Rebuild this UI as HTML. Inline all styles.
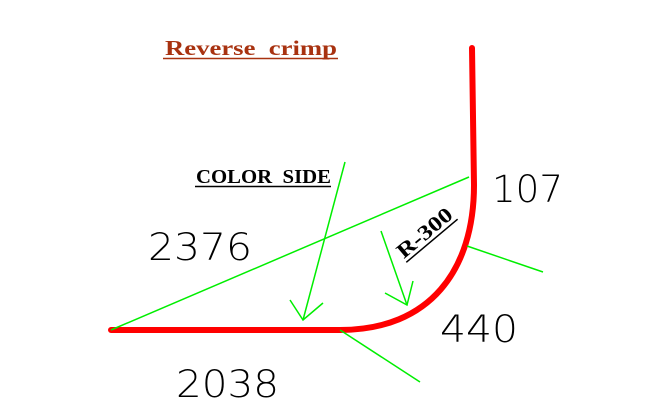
<!DOCTYPE html>
<html><head><meta charset="utf-8"><style>
html,body{margin:0;padding:0;background:#fff;}
svg{display:block;}
.num{font-family:"DejaVu Sans","Liberation Sans",sans-serif;font-size:37px;font-weight:200;fill:#000;}
.lbl{font-family:"Liberation Serif",serif;font-weight:bold;white-space:pre;}
</style></head><body>
<svg width="649" height="417" viewBox="0 0 649 417">
<rect width="649" height="417" fill="#fff"/>
<g>
<text class="lbl" x="165" y="55" font-size="21" fill="#a83210" textLength="172" lengthAdjust="spacingAndGlyphs" xml:space="preserve">Reverse  crimp</text>
<line x1="163" y1="58.5" x2="338" y2="58.5" stroke="#a83210" stroke-width="1.5"/>
</g>
<g>
<text class="lbl" x="196" y="183" font-size="20" fill="#000" textLength="135" lengthAdjust="spacingAndGlyphs" xml:space="preserve">COLOR  SIDE</text>
<line x1="195" y1="186.5" x2="331" y2="186.5" stroke="#000" stroke-width="1.5"/>
</g>
<path d="M111,330 L340,330 C430,330 474,270 474,185 L472,48" fill="none" stroke="#ff0000" stroke-width="6" stroke-linecap="round" stroke-linejoin="round"/>
<g stroke="#00ee00" stroke-width="1.5" fill="none">
<line x1="111" y1="330" x2="469" y2="177"/>
<line x1="345" y1="162" x2="303" y2="320"/>
<polyline points="290,300 303,320 323,303"/>
<line x1="381" y1="231" x2="407" y2="305"/>
<polyline points="385,293 407,305 413,281"/>
<line x1="467" y1="246" x2="543" y2="272"/>
<line x1="340" y1="330" x2="420" y2="382"/>
</g>
<g transform="translate(429,238) rotate(-40)">
<text class="lbl" x="0" y="0" font-size="21" fill="#000" text-anchor="middle" textLength="66" lengthAdjust="spacingAndGlyphs">R-300</text>
<line x1="-33" y1="4" x2="34" y2="4" stroke="#000" stroke-width="1.5"/>
</g>
<text class="num" x="148" y="260" textLength="104" lengthAdjust="spacingAndGlyphs">2376</text>
<text class="num" x="492" y="202" textLength="71" lengthAdjust="spacingAndGlyphs">107</text>
<text class="num" x="440" y="342" textLength="78" lengthAdjust="spacingAndGlyphs">440</text>
<text class="num" x="176" y="397" textLength="103" lengthAdjust="spacingAndGlyphs">2038</text>
</svg>
</body></html>
